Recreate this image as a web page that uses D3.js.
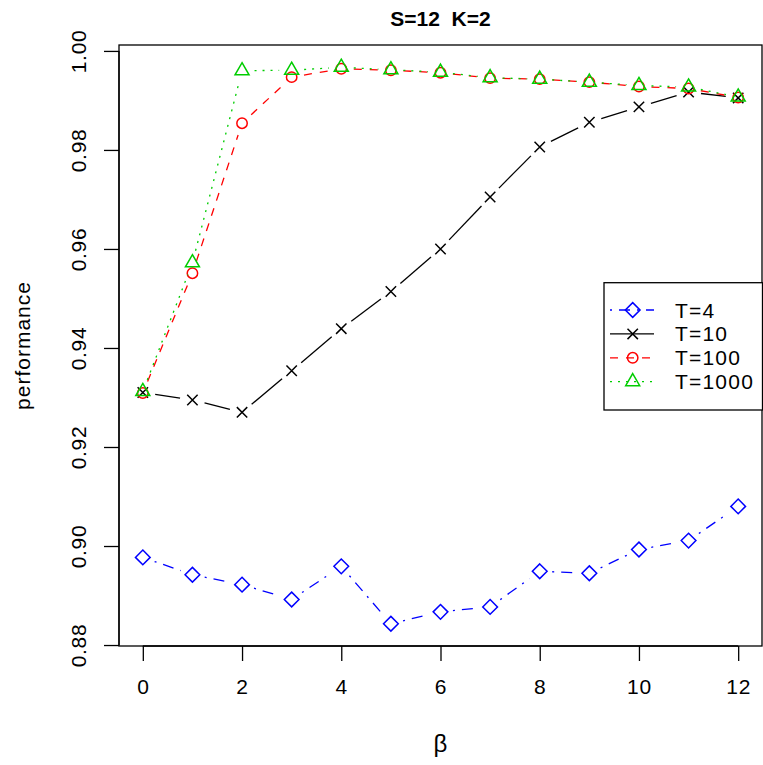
<!DOCTYPE html>
<html>
<head>
<meta charset="utf-8">
<script src="https://cdn.jsdelivr.net/npm/d3@7"></script>
<style>
  body { margin: 0; background: #fff; }
  text { font-family: "Liberation Sans", Arial, Helvetica, sans-serif; }
</style>
</head>
<body>
<div id="chart"></div>
<script>
// data
var beta = [0, 1, 2, 3, 4, 5, 6, 7, 8, 9, 10, 11, 12];
var perfT4 = [0.8977, 0.8942, 0.8922, 0.8892, 0.8959, 0.8843, 0.8867, 0.8877, 0.8949, 0.8945, 0.8993, 0.9011, 0.9080];
var perfT10 = [0.9310, 0.9295, 0.9270, 0.9354, 0.9439, 0.9514, 0.9600, 0.9705, 0.9806, 0.9856, 0.9887, 0.9917, 0.9905];
var perfT100 = [0.9309, 0.9551, 0.9854, 0.9947, 0.9964, 0.9961, 0.9956, 0.9945, 0.9943, 0.9937, 0.9928, 0.9924, 0.9906];
var perfT1000 = [0.9312, 0.9572, 0.9960, 0.9961, 0.9967, 0.9962, 0.9957, 0.9946, 0.9943, 0.9937, 0.9930, 0.9927, 0.9907];
var seriesNames = ["T=4", "T=10", "T=100", "T=1000"];
var xTicks = [0, 2, 4, 6, 8, 10, 12];
var yTicks = [0.88, 0.90, 0.92, 0.94, 0.96, 0.98, 1.00];
var title = "S=12\u00a0\u00a0K=2";

var W = 763, H = 765;
var margin = { top: 45, right: 1, bottom: 119, left: 119 };

var series = [
    { name: seriesNames[0], values: perfT4, color: "#0000FF", dash: "2,7,11,7", pch: "diamond" },
    { name: seriesNames[1], values: perfT10, color: "#000000", dash: null, pch: "cross" },
    { name: seriesNames[2], values: perfT100, color: "#FF0000", dash: "8,8", pch: "circle" },
    { name: seriesNames[3], values: perfT1000, color: "#00CD00", dash: "2,6", pch: "triangle" }
];

var svg = d3.select("#chart").append("svg")
    .attr("width", W)
    .attr("height", H);

// R style ranges: 4% padding on both ends
var xr = d3.extent(beta);
var xpad = (xr[1] - xr[0]) * 0.04;
var allY = [].concat(perfT4, perfT10, perfT100, perfT1000);
var yr = d3.extent(allY);
var ypad = (yr[1] - yr[0]) * 0.04;

var x = d3.scaleLinear()
    .domain([xr[0] - xpad, xr[1] + xpad])
    .range([margin.left, W - margin.right]);
var y = d3.scaleLinear()
    .domain([yr[0] - ypad, yr[1] + ypad])
    .range([H - margin.bottom, margin.top]);

var tickFont = 21, spacing = "0.7px";

// x axis
var xAxis = svg.append("g")
    .attr("transform", "translate(0," + (H - margin.bottom) + ")")
    .call(d3.axisBottom(x).tickValues(xTicks).tickSize(15).tickPadding(18).tickFormat(d3.format("d")));
xAxis.select(".domain").attr("d", "M" + x(xTicks[0]) + ",0H" + x(xTicks[xTicks.length - 1]));
xAxis.selectAll("line").attr("stroke-width", 1.3);
xAxis.selectAll("path").attr("stroke-width", 1.3);
xAxis.selectAll("text")
    .attr("font-size", tickFont)
    .attr("letter-spacing", spacing)
    .attr("fill", "#000");

// y axis, labels rotated like R's las=0
var yAxis = svg.append("g")
    .attr("transform", "translate(" + margin.left + ",0)")
    .call(d3.axisLeft(y).tickValues(yTicks).tickSize(15).tickFormat(d3.format(".2f")));
yAxis.select(".domain").attr("d", "M0," + y(yTicks[0]) + "V" + y(yTicks[yTicks.length - 1]));
yAxis.selectAll("line").attr("stroke-width", 1.3);
yAxis.selectAll("path").attr("stroke-width", 1.3);
yAxis.selectAll("text")
    .attr("font-size", tickFont)
    .attr("letter-spacing", spacing)
    .attr("fill", "#000")
    .attr("x", null).attr("dy", null)
    .attr("text-anchor", "middle")
    .attr("transform", "translate(-33,0) rotate(-90)");

// box
svg.append("rect")
    .attr("x", margin.left)
    .attr("y", margin.top)
    .attr("width", W - margin.right - margin.left)
    .attr("height", H - margin.bottom - margin.top)
    .attr("fill", "none")
    .attr("stroke", "#000")
    .attr("stroke-width", 1.3);

// title and axis labels
svg.append("text")
    .attr("x", (margin.left + W - margin.right) / 2)
    .attr("y", 26)
    .attr("text-anchor", "middle")
    .attr("font-size", 21)
    .attr("font-weight", "bold")
    .text(title);

svg.append("text")
    .attr("x", (margin.left + W - margin.right) / 2)
    .attr("y", 752)
    .attr("text-anchor", "middle")
    .attr("font-size", 24)
    .text("\u03b2");

svg.append("text")
    .attr("transform", "translate(30," + ((margin.top + H - margin.bottom) / 2) + ") rotate(-90)")
    .attr("text-anchor", "middle")
    .attr("font-size", tickFont)
    .attr("letter-spacing", "1px")
    .text("performance");

// markers, sized like R's pch at cex=1
var RAD = 5.2;
function drawMarker(g, pch, cx, cy, color) {
    var m;
    if (pch == "circle") {
        m = g.append("circle").attr("cx", cx).attr("cy", cy).attr("r", RAD);
    } else if (pch == "diamond") {
        var d = RAD * Math.SQRT2;
        m = g.append("path").attr("d", "M" + cx + "," + (cy - d) + "L" + (cx + d) + "," + cy +
            "L" + cx + "," + (cy + d) + "L" + (cx - d) + "," + cy + "Z");
    } else if (pch == "cross") {
        m = g.append("path").attr("d", "M" + (cx - RAD) + "," + (cy - RAD) + "L" + (cx + RAD) + "," + (cy + RAD) +
            "M" + (cx - RAD) + "," + (cy + RAD) + "L" + (cx + RAD) + "," + (cy - RAD));
    } else {
        var r = 1.555 * RAD, hw = r * Math.sqrt(3) / 2;
        m = g.append("path").attr("d", "M" + cx + "," + (cy - r) + "L" + (cx + hw) + "," + (cy + r / 2) +
            "L" + (cx - hw) + "," + (cy + r / 2) + "Z");
    }
    m.attr("fill", "none").attr("stroke", color).attr("stroke-width", 1.5);
}

// type = "b": segments stop short of the points
var gap = 12.5;
series.forEach(function (s) {
    var g = svg.append("g");
    var pts = beta.map(function (b, i) { return [x(b), y(s.values[i])]; });
    for (var i = 0; i < pts.length - 1; i++) {
        var x0 = pts[i][0], y0 = pts[i][1], x1 = pts[i + 1][0], y1 = pts[i + 1][1];
        var len = Math.hypot(x1 - x0, y1 - y0);
        if (len <= 2 * gap) continue;
        var ux = (x1 - x0) / len, uy = (y1 - y0) / len;
        g.append("line")
            .attr("x1", x0 + ux * gap).attr("y1", y0 + uy * gap)
            .attr("x2", x1 - ux * gap).attr("y2", y1 - uy * gap)
            .attr("stroke", s.color)
            .attr("stroke-width", 1.3)
            .attr("stroke-dasharray", s.dash);
    }
    pts.forEach(function (p) { drawMarker(g, s.pch, p[0], p[1], s.color); });
});

// legend
var legX = 604, legY = 282.7, legW = 158.5, legH = 127.3, rowH = 23.9;
var leg = svg.append("g");
leg.append("rect")
    .attr("x", legX).attr("y", legY)
    .attr("width", legW).attr("height", legH)
    .attr("fill", "#fff")
    .attr("stroke", "#000")
    .attr("stroke-width", 1.3);
series.forEach(function (s, i) {
    var cy = 310 + i * rowH;
    leg.append("line")
        .attr("x1", 610).attr("x2", 654)
        .attr("y1", cy).attr("y2", cy)
        .attr("stroke", s.color)
        .attr("stroke-width", 1.3)
        .attr("stroke-dasharray", s.dash);
    drawMarker(leg, s.pch, 632.7, cy, s.color);
    leg.append("text")
        .attr("x", 675)
        .attr("y", cy + 7.5)
        .attr("font-size", tickFont)
        .attr("letter-spacing", "1.2px")
        .text(s.name);
});
</script>
</body>
</html>
